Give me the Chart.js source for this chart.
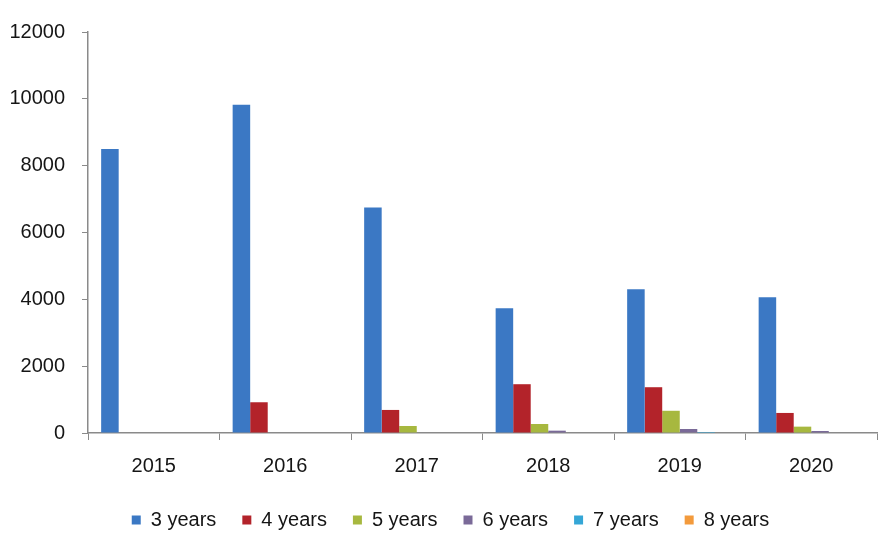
<!DOCTYPE html>
<html>
<head>
<meta charset="utf-8">
<script src="https://cdn.jsdelivr.net/npm/chart.js@4/dist/chart.umd.min.js"></script>
<style>
  html, body { margin: 0; padding: 0; background: #fff; }
  #wrap { width: 891px; height: 533px; }
</style>
</head>
<body>
<div id="wrap"><canvas id="years-chart"></canvas></div>
<script>
// years of study per cohort
const years = ['2015', '2016', '2017', '2018', '2019', '2020'];
const y3 = [8500, 9820, 6750, 3730, 4300, 4060];
const y4 = [0, 920, 690, 1460, 1370, 600];
const y5 = [0, 0, 210, 270, 665, 190];
const y6 = [0, 0, 0, 70, 120, 60];
const y7 = [0, 0, 0, 0, 30, 0];
const y8 = [0, 0, 0, 0, 0, 0];
const yTicks = [0, 2000, 4000, 6000, 8000, 10000, 12000];

const seriesNames = ['3 years', '4 years', '5 years', '6 years', '7 years', '8 years'];
const seriesData = [y3, y4, y5, y6, y7, y8];
const seriesColors = ['#3b78c4', '#b3232a', '#a7b83f', '#7a6a98', '#35a6d6', '#f39a3c'];

Chart.defaults.font.family = '"Liberation Sans", Arial, sans-serif';
Chart.defaults.font.size = 20;
Chart.defaults.color = '#151515';

let canvas = document.getElementById('years-chart');
let ctx = canvas.getContext('2d');

new Chart(ctx, {
    type: 'bar',
    data: {
        labels: years,
        datasets: seriesNames.map((name, i) => ({
            label: name,
            data: seriesData[i],
            backgroundColor: seriesColors[i],
            borderWidth: 0,
            categoryPercentage: 0.8,
            barPercentage: 1.0
        }))
    },
    options: {
        responsive: true,
        maintainAspectRatio: false,
        animation: false,
        layout: {
            padding: { left: 0, right: 14, top: 32, bottom: -7 }
        },
        scales: {
            x: {
                grid: {
                    offset: true,
                    drawOnChartArea: false,
                    tickLength: 7,
                    color: '#8a8a8a'
                },
                border: { color: '#8a8a8a', width: 1.5 },
                ticks: { padding: 14 },
                afterFit: function (scale) { scale.height = 51; }
            },
            y: {
                min: 0,
                max: 12000,
                afterBuildTicks: function (scale) {
                    scale.ticks = yTicks.map(v => ({ value: v }));
                },
                grid: {
                    drawOnChartArea: false,
                    tickLength: 6,
                    color: '#8a8a8a'
                },
                border: { color: '#8a8a8a', width: 1.5 },
                ticks: {
                    padding: 17,
                    callback: v => String(v)
                },
                afterFit: function (scale) { scale.width = 88; }
            }
        },
        plugins: {
            legend: {
                position: 'bottom',
                labels: {
                    boxWidth: 9,
                    boxHeight: 9,
                    padding: 26,
                    color: '#151515'
                }
            },
            tooltip: { enabled: false }
        }
    },
    plugins: [
        {
            // nudge the legend row a little to the right
            id: 'legendShift',
            afterLayout: function (chart) {
                chart.legend.left += 12;
                chart.legend.right += 12;
            }
        }
    ]
});
</script>
</body>
</html>
